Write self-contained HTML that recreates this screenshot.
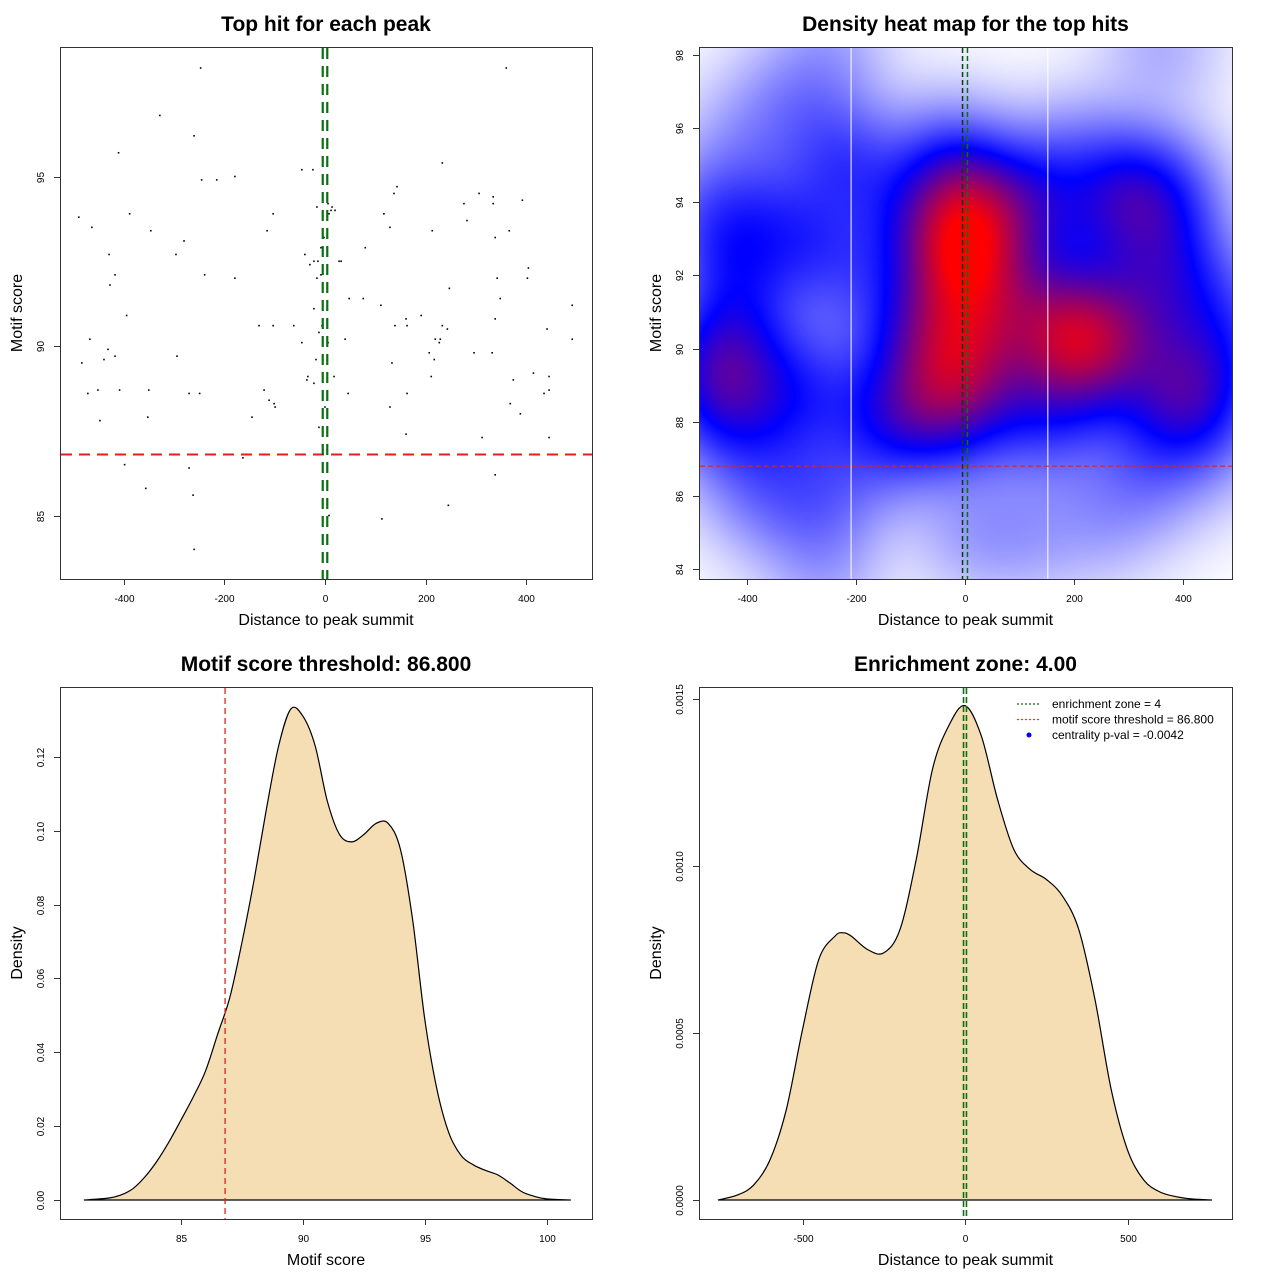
<!DOCTYPE html>
<html><head><meta charset="utf-8"><style>
html,body{margin:0;padding:0;background:#fff;width:1280px;height:1280px;overflow:hidden}
#heat{position:absolute;left:699px;top:47px;width:533px;height:532px}
#main{position:absolute;left:0;top:0}
text{font-family:"Liberation Sans",sans-serif;fill:#000}
</style></head><body>
<canvas id="heat" width="533" height="532"></canvas>
<svg id="main" width="1280" height="1280" xmlns="http://www.w3.org/2000/svg"></svg>
<script>
// ---- data ----
const scatterX=[-247,-328,-260,-410,-46,-24,-245,-215,-179,-489,-388,-463,-346,-103,-115,-16,-280,-429,-296,-40,-30,-22,-14,-8,-16,-417,-427,-239,-179,-394,-22,-6,-467,-131,-103,-62,-12,-46,-431,-417,-439,-483,-294,-18,-34,-36,-22,-471,-451,-408,-350,-270,-249,-121,-111,-101,-99,-447,-352,-145,-12,-398,-163,-270,-356,-262,-260,
360,233,143,137,306,334,276,334,392,14,12,20,6,8,117,282,129,213,366,338,-2,80,-8,28,32,404,342,402,247,48,76,111,348,491,191,139,161,163,338,233,243,441,40,219,229,227,491,6,207,296,332,217,133,18,211,414,445,374,46,163,445,435,0,129,368,388,161,312,445,338,245,113,8];
const scatterY=[98.2,96.8,96.2,95.7,95.2,95.2,94.9,94.9,95.0,93.8,93.9,93.5,93.4,93.9,93.4,94.1,93.1,92.7,92.7,92.7,92.4,92.5,92.5,92.1,92.0,92.1,91.8,92.1,92.0,90.9,91.1,90.6,90.2,90.6,90.6,90.6,90.4,90.1,89.9,89.7,89.6,89.5,89.7,89.6,89.1,89.0,88.9,88.6,88.7,88.7,88.7,88.6,88.6,88.7,88.4,88.3,88.2,87.8,87.9,87.9,87.6,86.5,86.7,86.4,85.8,85.6,84.0,
98.2,95.4,94.7,94.5,94.5,94.4,94.2,94.2,94.3,94.1,94.0,94.0,94.2,93.9,93.9,93.7,93.5,93.4,93.4,93.2,93.2,92.9,92.9,92.5,92.5,92.3,92.0,92.0,91.7,91.4,91.4,91.2,91.4,91.2,90.9,90.6,90.8,90.6,90.8,90.6,90.5,90.5,90.2,90.2,90.2,90.1,90.2,90.1,89.8,89.8,89.8,89.6,89.5,89.1,89.1,89.2,89.1,89.0,88.6,88.6,88.7,88.6,88.2,88.2,88.3,88.0,87.4,87.3,87.3,86.2,85.3,84.9,85.0];
const threshold=86.8;
const zoneLo=-4.5, zoneHi=4.5;
const cutLeft=-209, cutRight=152;
const scoreX=[81,82,82.5,83,83.5,84,84.5,85,85.5,86,86.5,87,87.5,88,88.5,89,89.5,90,90.5,91,91.5,92,92.5,93,93.5,94,94.5,95,95.5,96,96.5,97,97.5,98,98.5,99,99.5,100,101];
const scoreD=[0,0.0005,0.0013,0.003,0.0062,0.0105,0.0158,0.0218,0.028,0.035,0.045,0.055,0.070,0.087,0.106,0.123,0.133,0.131,0.123,0.108,0.099,0.097,0.099,0.102,0.102,0.095,0.076,0.049,0.030,0.018,0.012,0.0095,0.008,0.0068,0.0046,0.0022,0.001,0.0003,0];
const distX=[-760,-700,-650,-600,-550,-500,-450,-400,-375,-350,-300,-250,-200,-150,-100,-50,0,50,100,150,200,250,300,350,400,450,500,550,600,650,700,760];
const distD=[0,0.000015,0.000045,0.00012,0.00027,0.00051,0.00072,0.00079,0.0008,0.00079,0.00075,0.00074,0.00081,0.00102,0.00129,0.00142,0.00148,0.00139,0.0012,0.00105,0.00099,0.00096,0.00091,0.00081,0.0006,0.00033,0.00015,0.00006,0.000024,0.00001,0.000003,0];
const p1XTicks=[-400,-200,0,200,400], p1YTicks=[85,90,95];
const p2XTicks=[-400,-200,0,200,400], p2YTicks=[84,86,88,90,92,94,96,98];
const p3XTicks=[85,90,95,100], p3YTicks=[0,0.02,0.04,0.06,0.08,0.10,0.12];
const p3YLabels=["0.00","0.02","0.04","0.06","0.08","0.10","0.12"];
const p4XTicks=[-500,0,500], p4YTicks=[0,0.0005,0.001,0.0015];
const p4YLabels=["0.0000","0.0005","0.0010","0.0015"];

// ---- scales ----
const xs1=v=>325+v*0.5035, ys1=v=>346-(v-90)*33.9;
const xs2=v=>965+v*0.545, ys2=v=>569-(v-84)*36.71;
const xs3=v=>303+(v-90)*24.35, ys3=v=>1200-v*3692;
const xs4=v=>965+v*0.325, ys4=v=>1200-v*334000;

const svg=document.getElementById('main');
const NS='http://www.w3.org/2000/svg';
function mk(tag,attrs,parent){const e=document.createElementNS(NS,tag);for(const k in attrs)e.setAttribute(k,attrs[k]);(parent||svg).appendChild(e);return e;}
function txt(s,x,y,size,opts,parent){const e=mk('text',Object.assign({x:x,y:y,'font-size':size,'text-anchor':'middle'},opts||{}),parent);e.textContent=s;return e;}

function panel(name,box,title,xlab,ylab,xt,xl,xsc,yt,yl,ysc){
  const g=mk('g',{});
  
  
  const [x0,y0,x1,y1]=box;
  const fr=mk('rect',{x:x0+0.5,y:y0+0.5,width:x1-x0,height:y1-y0,fill:'none',stroke:'#333','stroke-width':1},g);
  
  
  const t=txt(title,(x0+x1)/2,y0-16,21,{'font-weight':'bold'},g);
  
  
  const xa=mk('g',{},g);
  
  
  xt.forEach((v,i)=>{const px=Math.round(xsc(v))+0.5;mk('line',{x1:px,x2:px,y1:y1,y2:y1+6,stroke:'#333'},xa);txt(xl[i],px,y1+23,10,{},xa);});
  const xtt=txt(xlab,(x0+x1)/2,y1+46,16,{},g);
  
  
  const ya=mk('g',{},g);
  
  
  yt.forEach((v,i)=>{const py=Math.round(ysc(v))+0.5;mk('line',{x1:x0-6,x2:x0,y1:py,y2:py,stroke:'#333'},ya);txt(yl[i],x0-16,py,10,{transform:`rotate(-90 ${x0-16} ${py})`},ya);});
  const ytt=txt(ylab,x0-38,(y0+y1)/2,16,{transform:`rotate(-90 ${x0-38} ${(y0+y1)/2})`},g);
  
  
  return g;
}

// panel 1
const g1=panel('scatter-panel',[60,47,592,579],'Top hit for each peak','Distance to peak summit','Motif score',p1XTicks,p1XTicks.map(String),xs1,p1YTicks,p1YTicks.map(String),ys1);
scatterX.forEach((v,i)=>{const r=mk('rect',{x:xs1(v)-0.8,y:ys1(scatterY[i])-0.8,width:1.6,height:1.6,fill:'#000'},g1);

});
let l=mk('line',{x1:61,x2:592,y1:ys1(threshold),y2:ys1(threshold),stroke:'#e0201e','stroke-width':2,'stroke-dasharray':'11 7'},g1);


[zoneLo,zoneHi].forEach(v=>{const z=mk('line',{x1:xs1(v),x2:xs1(v),y1:48,y2:579,stroke:'#0a7010','stroke-width':2.2,'stroke-dasharray':'11 7'},g1);

});

// panel 2 heatmap
(function(){
  const cv=document.getElementById('heat');const ctx=cv.getContext('2d');
  const W=533,H=532,img=ctx.createImageData(W,H);
  const bx=72,by=1.15,step=2;const gw=Math.ceil(W/step)+1,gh=Math.ceil(H/step)+1;
  const grid=new Float32Array(gw*gh);let mx=0;
  for(let j=0;j<gh;j++){const dy=84-((47+j*step)-569)/36.71;
    for(let i=0;i<gw;i++){const dx=((699+i*step)-965)/0.545;let s=0;
      for(let k=0;k<scatterX.length;k++){const a=(dx-scatterX[k])/bx,b=(dy-scatterY[k])/by;s+=Math.exp(-0.5*(a*a+b*b));}
      grid[j*gw+i]=s;if(s>mx)mx=s;}}
  for(let y=0;y<H;y++)for(let x=0;x<W;x++){
    const d=grid[Math.round(y/step)*gw+Math.round(x/step)];
    const t=Math.pow(d/mx,0.68);let r,g,b;
    if(t<0.5){const s=t/0.5;r=255*(1-s);g=255*(1-s);b=255;}else{const s=Math.min(1,(t-0.5)/0.45);r=255*s;g=0;b=255*(1-s);}
    const o=(y*W+x)*4;img.data[o]=r;img.data[o+1]=g;img.data[o+2]=b;img.data[o+3]=255;}
  ctx.putImageData(img,0,0);
})();
const g2=panel('heatmap-panel',[699,47,1232,579],'Density heat map for the top hits','Distance to peak summit','Motif score',p2XTicks,p2XTicks.map(String),xs2,p2YTicks,p2YTicks.map(String),ys2);
[cutLeft,cutRight].forEach(v=>{const c=mk('line',{x1:xs2(v),x2:xs2(v),y1:48,y2:579,stroke:'#fff','stroke-width':1},g2);

});
l=mk('line',{x1:700,x2:1232,y1:ys2(threshold),y2:ys2(threshold),stroke:'#e0201e','stroke-width':1.2,'stroke-dasharray':'5 3'},g2);


[[zoneLo,'#0b3d10'],[zoneHi,'#0a7010']].forEach(([v,c])=>{const z=mk('line',{x1:xs2(v),x2:xs2(v),y1:48,y2:579,stroke:c,'stroke-width':1.5,'stroke-dasharray':'5 3'},g2);

});

// panel 3
const g3=panel('score-density-panel',[60,687,592,1219],'Motif score threshold: 86.800','Motif score','Density',p3XTicks,p3XTicks.map(String),xs3,p3YTicks,p3YLabels,ys3);
function curve(xa,ya,xs,ys,g){
  const pts=xa.map((v,i)=>[xs(v),ys(ya[i])]);
  let d='M'+pts[0][0]+','+pts[0][1];
  for(let i=0;i<pts.length-1;i++){const p0=pts[Math.max(0,i-1)],p1=pts[i],p2=pts[i+1],p3=pts[Math.min(pts.length-1,i+2)];
    const c1=[p1[0]+(p2[0]-p0[0])/6,p1[1]+(p2[1]-p0[1])/6],c2=[p2[0]-(p3[0]-p1[0])/6,p2[1]-(p3[1]-p1[1])/6];
    d+=` C${c1[0]},${c1[1]} ${c2[0]},${c2[1]} ${p2[0]},${p2[1]}`;}
  const a=mk('path',{d:d+'Z',fill:'#f5deb3',stroke:'#000','stroke-width':1.2},g);
  
  
}
curve(scoreX,scoreD,xs3,ys3,g3);
l=mk('line',{x1:xs3(threshold),x2:xs3(threshold),y1:688,y2:1219,stroke:'#e0201e','stroke-width':1.3,'stroke-dasharray':'6 4'},g3);



// panel 4
const g4=panel('distance-density-panel',[699,687,1232,1219],'Enrichment zone: 4.00','Distance to peak summit','Density',p4XTicks,p4XTicks.map(String),xs4,p4YTicks,p4YLabels,ys4);
curve(distX,distD,xs4,ys4,g4);
[zoneLo,zoneHi].forEach(v=>{const z=mk('line',{x1:xs4(v),x2:xs4(v),y1:688,y2:1219,stroke:'#0a7010','stroke-width':1.6,'stroke-dasharray':'6 3'},g4);

});
const lg=mk('g',{},g4);


[['enrichment zone = 4','#0a7010','line'],['motif score threshold = 86.800','#ff3030','line'],['centrality p-val = -0.0042','#0000ff','dot']].forEach((e,i)=>{
  const y=704+i*15.5;
  if(e[2]==='line')mk('line',{x1:1017,x2:1041,y1:y,y2:y,stroke:e[1],'stroke-width':1.3,'stroke-dasharray':'2 2'},lg);
  else mk('circle',{cx:1029,cy:y,r:2.5,fill:e[1]},lg);
  const t=txt(e[0],1052,y+4,12,{'text-anchor':'start'},lg);
  
  
});
</script>
</body></html>
